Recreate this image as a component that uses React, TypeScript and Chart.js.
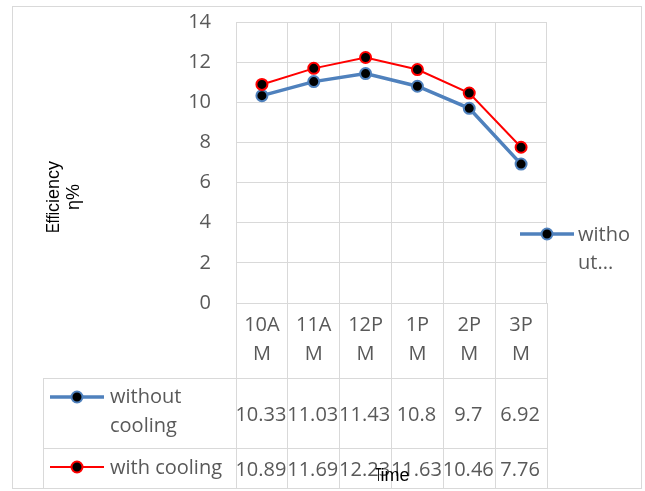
import React, { useEffect, useRef } from "react";
import { Chart, registerables } from "chart.js";

Chart.register(...registerables);

const categories: string[][] = [["10A", "M"], ["11A", "M"], ["12P", "M"], ["1P", "M"], ["2P", "M"], ["3P", "M"]];
const withoutCooling = [10.33, 11.03, 11.43, 10.8, 9.7, 6.92];
const withCooling = [10.89, 11.69, 12.23, 11.63, 10.46, 7.76];
const withoutLabel = ["without", "cooling"];
const withLabel = ["with cooling"];
const legendText = ["witho", "ut..."];
const yTitleSquished = "Effi";
const yTitleRest = "ciency";
const yTitleUnit = "η%";
const xTitleSquished = "T";
const xTitleRest = "ime";
const yMin = 0;
const yMax = 14;
const yStep = 2;

const BLUE = "#4F81BD";
const RED = "#FF0000";
const GRID = "#d9d9d9";
const TEXT = "#595959";
const FONT = '"Open Sans", "Noto Sans", sans-serif';
const TITLE_FONT = '"Liberation Sans", Arial, sans-serif';

function drawKey(ctx: CanvasRenderingContext2D, cx: number, cy: number, color: string, lw: number) {
  ctx.save();
  ctx.strokeStyle = color;
  ctx.lineWidth = lw;
  ctx.beginPath();
  ctx.moveTo(cx - 27, cy);
  ctx.lineTo(cx + 27, cy);
  ctx.stroke();
  ctx.beginPath();
  ctx.arc(cx, cy, 5.5, 0, Math.PI * 2);
  ctx.fillStyle = "#000";
  ctx.fill();
  ctx.lineWidth = 2;
  ctx.strokeStyle = color;
  ctx.stroke();
  ctx.restore();
}

function hline(ctx: CanvasRenderingContext2D, x1: number, x2: number, y: number) {
  const yy = Math.round(y) + 0.5;
  ctx.beginPath();
  ctx.moveTo(x1, yy);
  ctx.lineTo(x2, yy);
  ctx.stroke();
}
function vline(ctx: CanvasRenderingContext2D, x: number, y1: number, y2: number) {
  const xx = Math.round(x) + 0.5;
  ctx.beginPath();
  ctx.moveTo(xx, y1);
  ctx.lineTo(xx, y2);
  ctx.stroke();
}

const decorPlugin = {
  id: "decor",
  afterDraw(chart: any) {
    const ctx: CanvasRenderingContext2D = chart.ctx;
    const xs = chart.scales.x;
    const ca = chart.chartArea;
    const n = categories.length;
    const step = xs.getPixelForValue(1) - xs.getPixelForValue(0);
    const tTop = 378;
    const r1 = 448;
    const tBot = 488;
    const tLeft = 43;

    ctx.save();
    ctx.strokeStyle = GRID;
    ctx.lineWidth = 1;
    // outer chart border
    ctx.strokeRect(12.5, 6.5, 629, 482);
    // data table lines
    hline(ctx, tLeft, ca.right + 1, tTop);
    hline(ctx, tLeft, ca.right + 1, r1);
    vline(ctx, tLeft, tTop, tBot);
    for (let i = 0; i <= n; i++) {
      const x = xs.getPixelForValue(i) - step / 2;
      vline(ctx, x - 0.5, ca.bottom, tBot);
    }

    // table values
    ctx.font = `20px ${FONT}`;
    ctx.fillStyle = TEXT;
    ctx.textAlign = "center";
    ctx.textBaseline = "middle";
    for (let i = 0; i < n; i++) {
      const cx = xs.getPixelForValue(i);
      ctx.fillText(String(withoutCooling[i]), cx - 1, 415);
      ctx.fillText(String(withCooling[i]), cx - 1, 470);
    }

    // table legend keys
    drawKey(ctx, 77, 397, BLUE, 3.5);
    drawKey(ctx, 77, 467, RED, 2);
    ctx.textAlign = "left";
    ctx.fillStyle = TEXT;
    ctx.fillText(withoutLabel[0], 110, 397);
    ctx.fillText(withoutLabel[1], 110, 426);
    ctx.fillText(withLabel[0], 110, 468);

    // right legend
    drawKey(ctx, 547, 234, BLUE, 3.5);
    ctx.fillText(legendText[0], 578, 235);
    ctx.fillText(legendText[1], 578, 263);

    // y axis title (rotated)
    ctx.fillStyle = "#000";
    ctx.font = `18px ${TITLE_FONT}`;
    ctx.save();
    ctx.translate(54, 197);
    ctx.rotate(-Math.PI / 2);
    const sqW = 21;
    const restW = ctx.measureText(yTitleRest).width;
    const total = sqW + restW;
    const start = -total / 2;
    const effW = ctx.measureText(yTitleSquished).width;
    ctx.textAlign = "left";
    ctx.textBaseline = "middle";
    ctx.save();
    ctx.translate(start, 0);
    ctx.scale(sqW / effW, 1);
    ctx.fillText(yTitleSquished, 0, 0);
    ctx.restore();
    ctx.fillText(yTitleRest, start + sqW, 0);
    ctx.restore();

    ctx.save();
    ctx.translate(74, 197);
    ctx.rotate(-Math.PI / 2);
    ctx.textAlign = "center";
    ctx.textBaseline = "middle";
    ctx.fillText(yTitleUnit, 0, 0);
    ctx.restore();

    // x axis title
    ctx.save();
    const tW = ctx.measureText(xTitleSquished).width;
    const imeW = ctx.measureText(xTitleRest).width;
    const tSq = 6;
    const xStart = 393 - (tSq + imeW) / 2;
    ctx.textAlign = "left";
    ctx.textBaseline = "middle";
    ctx.save();
    ctx.translate(xStart, 476);
    ctx.scale(tSq / tW, 1);
    ctx.fillText(xTitleSquished, 0, 0);
    ctx.restore();
    ctx.fillText(xTitleRest, xStart + tSq - 1, 476);
    ctx.restore();

    ctx.restore();
  },
};

export default function App() {
  const ref = useRef<HTMLCanvasElement | null>(null);
  useEffect(() => {
    if (!ref.current) return;
    const chart = new Chart(ref.current, {
      type: "line",
      data: {
        labels: categories,
        datasets: [
          {
            label: "without cooling",
            data: withoutCooling,
            borderColor: BLUE,
            borderWidth: 3.5,
            pointRadius: 5.5,
            pointBackgroundColor: "#000",
            pointBorderColor: BLUE,
            pointBorderWidth: 2,
            tension: 0,
            order: 2,
          },
          {
            label: "with cooling",
            data: withCooling,
            borderColor: RED,
            borderWidth: 2,
            pointRadius: 5.5,
            pointBackgroundColor: "#000",
            pointBorderColor: RED,
            pointBorderWidth: 2,
            tension: 0,
            order: 1,
          },
        ],
      },
      options: {
        responsive: false,
        maintainAspectRatio: false,
        animation: false,
        devicePixelRatio: 1,
        layout: { padding: { left: 0, top: 22, right: 98, bottom: 113 } },
        plugins: { legend: { display: false }, tooltip: { enabled: false } },
        scales: {
          x: {
            offset: true,
            grid: { offset: true, color: GRID, drawTicks: false },
            border: { display: true, color: GRID },
            ticks: {
              color: TEXT,
              font: { family: FONT, size: 20, lineHeight: 1.45 },
              padding: 8,
              maxRotation: 0,
              autoSkip: false,
            },
            afterFit: (s: any) => {
              s.height = 75;
              s.paddingTop = 0;
              s.paddingBottom = 0;
              s.paddingLeft = 0;
              s.paddingRight = 0;
            },
          },
          y: {
            min: yMin,
            max: yMax,
            grid: { color: GRID, drawTicks: false },
            border: { display: true, color: GRID },
            ticks: {
              stepSize: yStep,
              color: TEXT,
              font: { family: FONT, size: 20 },
              padding: 25,
            },
            afterFit: (s: any) => {
              s.width = 236;
              s.paddingTop = 0;
              s.paddingBottom = 0;
              s.paddingLeft = 0;
              s.paddingRight = 0;
            },
          },
        },
      },
      plugins: [decorPlugin],
    });
    return () => chart.destroy();
  }, []);
  return (
    <div style={{ position: "absolute", left: 0, top: 0, width: 645, height: 491, background: "#fff" }}>
      <canvas ref={ref} width={645} height={491} style={{ display: "block" }} />
    </div>
  );
}
